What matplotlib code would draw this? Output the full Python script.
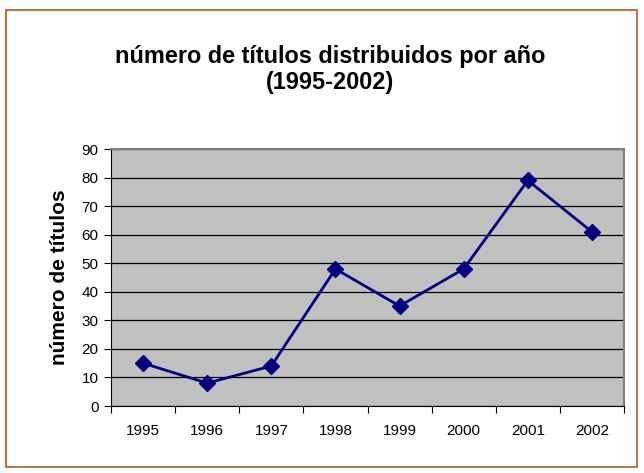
import matplotlib
matplotlib.use("Agg")
import matplotlib.pyplot as plt
from matplotlib.patches import Rectangle
import numpy as np

years = ["1995", "1996", "1997", "1998", "1999", "2000", "2001", "2002"]
titles = [15, 8, 14, 48, 35, 48, 79, 61]
yticks = [0, 10, 20, 30, 40, 50, 60, 70, 80, 90]

plt.rcParams['font.family'] = ['Liberation Sans', 'DejaVu Sans']

fig = plt.figure(figsize=(6.44, 4.73), dpi=100)
fig.patch.set_facecolor('white')
fig.patches.append(Rectangle((6/644, 1-467/473), 631/644, 457/473, transform=fig.transFigure,
                             fill=False, edgecolor='#B8561E', linewidth=1.2))

ax = fig.add_axes([111/644, 1-406/473, 513/644, 257/473])
ax.set_facecolor('#C0C0C0')
x = np.arange(len(years))
ax.plot(x, titles, color='#000080', linewidth=2, marker='D', markersize=8.5,
        markerfacecolor='#000080', markeredgecolor='#000080', zorder=3)
ax.set_xlim(-0.5, len(years) - 0.5)
ax.set_ylim(0, 90)
ax.set_yticks(yticks)
ax.set_yticklabels([str(v) for v in yticks], fontsize=11)
ax.yaxis.grid(True, color='black', linewidth=0.9)
ax.set_axisbelow(True)

ax.set_xticks(np.arange(-0.5, len(years), 1.0))
ax.set_xticklabels([])
ax.set_xticks(x, minor=True)
ax.set_xticklabels(years, minor=True, fontsize=11)
ax.tick_params(axis='x', which='major', direction='out', length=5, color='black')
ax.tick_params(axis='x', which='minor', length=0, pad=13)
ax.tick_params(axis='y', direction='out', length=5, color='black', pad=4)

ax.spines['left'].set_color('black')
ax.spines['bottom'].set_color('black')
ax.spines['top'].set_color('#808080')
ax.spines['right'].set_color('#808080')
ax.spines['top'].set_linewidth(1.5)
ax.spines['right'].set_linewidth(1.5)

ax.set_ylabel('número de títulos', fontsize=15, fontweight='bold', labelpad=9)

fig.text(0.513, 1-56/473, 'número de títulos distribuidos por año', ha='center', va='center',
         fontsize=16.9, fontweight='bold')
fig.text(0.513, 1-82/473, '(1995-2002)', ha='center', va='center',
         fontsize=16.9, fontweight='bold')

fig.savefig('out.png', dpi=100)
